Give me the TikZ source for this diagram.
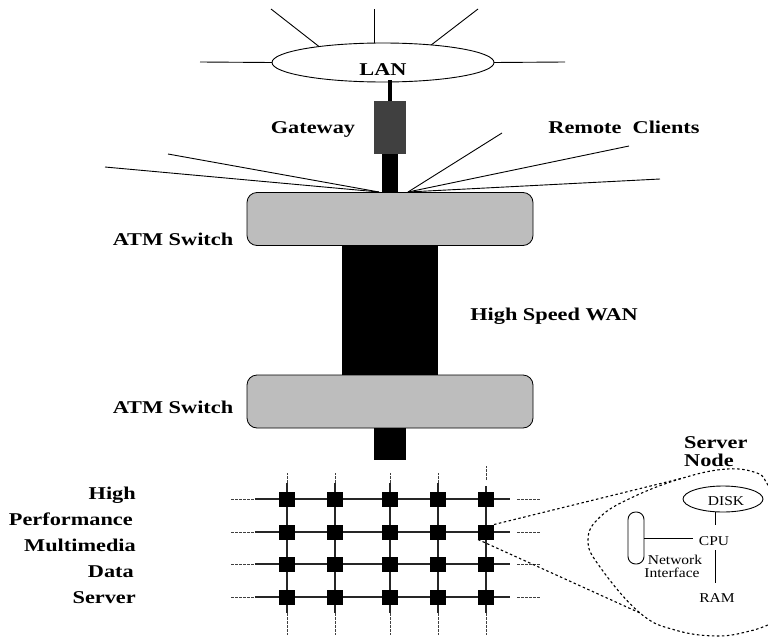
\documentclass[tikz,border=0pt]{standalone}
\usepackage{fontspec}
\setmainfont{Liberation Serif}[FakeStretch=1.15, BoldFeatures={FakeStretch=1.24}]
\usetikzlibrary{shapes.geometric}
\tikzset{
    blackbar/.style={rectangle, fill=black, inner sep=0pt, outer sep=0pt},
    atmbox/.style={rectangle, draw, thick, fill=black!26, rounded corners=10pt, minimum width=286pt, minimum height=53pt, inner sep=0pt, outer sep=0pt},
    boldlabel/.style={font=\fontsize{18}{20}\selectfont\bfseries, inner sep=0pt, anchor=base},
    smalllabel/.style={font=\fontsize{13.5}{15}\selectfont, inner sep=0pt},
    spoke/.style={line width=0.9pt},
    gridline/.style={line width=1.1pt, black!85},
    gridstub/.style={line width=1pt, black!75, dash pattern=on 3pt off 1pt},
    zoomline/.style={line width=1.1pt, dash pattern=on 2.5pt off 2.5pt},
    srvnode/.style={blackbar, minimum width=16pt, minimum height=15pt}
}
\begin{document}
\begin{tikzpicture}[x=1pt, y=-1pt]
    \useasboundingbox (0,0) rectangle (768,637);

    % LAN
    \node[draw, ellipse, fill=white, line width=0.9pt, minimum width=222pt, minimum height=39pt, inner sep=0pt, outer sep=0pt] (lan) at (383,62.5) {};
    \node[boldlabel] (lantext) at (383,75) {LAN};
    \foreach \name/\x/\y in {lw/200/62, le/565/62, lt/374/9, la/271/9, lb/478/9}{
        \coordinate (\name) at (\x,\y);
    }
    \draw[spoke] (lan.west) -- (lw);
    \draw[spoke] (lan.east) -- (le);
    \draw[spoke] (lan.north -| lt) -- (lt);
    \draw[spoke] (lan.166) -- (la);
    \draw[spoke] (lan.20.5) -- (lb);

    % Gateway
    \node[rectangle, fill=black!75, inner sep=0pt, outer sep=0pt, minimum width=32pt, minimum height=53pt] (gw) at (390,127.5) {};
    \coordinate (lanfoot) at (390,80);
    \draw[line width=3.5pt] (lanfoot) -- (gw.north);
    \node[boldlabel] (gwtext) at (313,133) {Gateway};
    \node[boldlabel] (rctext) at (624,133) {Remote\ \ Clients};

    % ATM switches and WAN
    \node[atmbox] (atma) at (390,219) {};
    \node[atmbox] (atmb) at (390,401.5) {};
    \node[blackbar, minimum width=16pt, minimum height=38pt] (gwbar) at (390,173) {};
    \node[blackbar, minimum width=96pt, minimum height=129pt] (wan) at (390,310.5) {};
    \node[blackbar, minimum width=32pt, minimum height=32pt] (stub) at (390,444) {};
    \node[boldlabel] (atmatext) at (173,245) {ATM Switch};
    \node[boldlabel] (atmbtext) at (173,413) {ATM Switch};
    \node[boldlabel] (wantext) at (554,320) {High Speed WAN};

    % Remote clients
    \coordinate (cl) at (379,192);
    \coordinate (cr) at (408,192);
    \foreach \name/\x/\y in {ca/105/167, cb/168/154}{
        \coordinate (\name) at (\x,\y);
        \draw[spoke] (cl) -- (\name);
    }
    \foreach \name/\x/\y in {cc/502/133, cd/629/146, ce/660/179}{
        \coordinate (\name) at (\x,\y);
        \draw[spoke] (cr) -- (\name);
    }

    % Server grid
    \foreach \c/\x/\u/\s/\t in {1/287/473/483/483, 2/335/473/483/483, 3/390/473/483/483, 4/438/473/483/483, 5/486/466/480/486}{
        \coordinate (vu\c) at (\x,\u);
        \coordinate (vs\c) at (\x,\s);
        \coordinate (vt\c) at (\x,\t);
        \coordinate (vb\c) at (\x,613);
        \coordinate (ve\c) at (\x,635);
        \draw[gridline] (vt\c) -- (vb\c);
        \draw[gridstub] (vs\c) -- (vu\c);
        \draw[gridstub] (vb\c) -- (ve\c);
    }
    \foreach \r/\y in {1/499,2/532,3/564,4/597}{
        \coordinate (hl\r) at (231,\y);
        \coordinate (hm\r) at (255,\y);
        \coordinate (hr\r) at (510,\y);
        \coordinate (hs\r) at (517,\y);
        \coordinate (he\r) at (540,\y);
        \draw[gridline] (hm\r) -- (hr\r);
        \draw[gridstub] (hl\r) -- (hm\r);
        \draw[gridstub] (hs\r) -- (he\r);
        \foreach \c/\x in {1/287,2/335,3/390,4/438,5/486}{
            \node[srvnode] (n\c\r) at (\x,\y) {};
        }
    }

    % Grid labels
    \node[boldlabel, anchor=base east] (ga) at (136,499) {High};
    \node[boldlabel, anchor=base east] (gb) at (133,525) {Performance};
    \node[boldlabel, anchor=base east] (gc) at (136,551) {Multimedia};
    \node[boldlabel, anchor=base east] (gd) at (134,577) {Data};
    \node[boldlabel, anchor=base east] (ge) at (136,603) {Server};

    % Server node blow up
    \node[boldlabel, anchor=base west] (sntext) at (684,448) {Server};
    \node[boldlabel, anchor=base west] (sntextb) at (684,466) {Node};
    \coordinate (zu) at (683,478);
    \coordinate (zd) at (640,613);
    \draw[zoomline] (n52.north east) -- (zu);
    \draw[zoomline] (n52.south west) -- (zd);
    \draw[zoomline] plot[smooth, tension=0.7] coordinates {(770,490) (766,482) (757,473) (727,469) (683,478) (633,497) (600,517) (588,540) (600,567) (640,613) (675,630) (717,636) (750,631) (770,624)};

    \node[draw, ellipse, line width=0.9pt, minimum width=80pt, minimum height=26pt, inner sep=0pt, outer sep=0pt] (disk) at (723,499) {};
    \node[smalllabel] (disktext) at (726,501) {DISK};
    \node[smalllabel] (cpu) at (714,541.5) {CPU};
    \node[smalllabel] (ram) at (717,598.5) {RAM};
    \node[draw, rectangle, line width=0.9pt, rounded corners=7.5pt, minimum width=16pt, minimum height=52pt, inner sep=0pt, outer sep=0pt] (nic) at (636,538) {};
    \node[smalllabel] (nictexta) at (675,560) {Network};
    \node[smalllabel] (nictextb) at (672,573) {Interface};
    \coordinate (cpuw) at (693,538);
    \coordinate (cpun) at (715,525);
    \coordinate (cpus) at (715,550);
    \coordinate (ramn) at (715,583);
    \draw[line width=0.9pt] (disk.south -| cpun) -- (cpun);
    \draw[line width=0.9pt] (cpus) -- (ramn);
    \draw[line width=0.9pt] (nic.east) -- (cpuw);
\end{tikzpicture}
\end{document}
